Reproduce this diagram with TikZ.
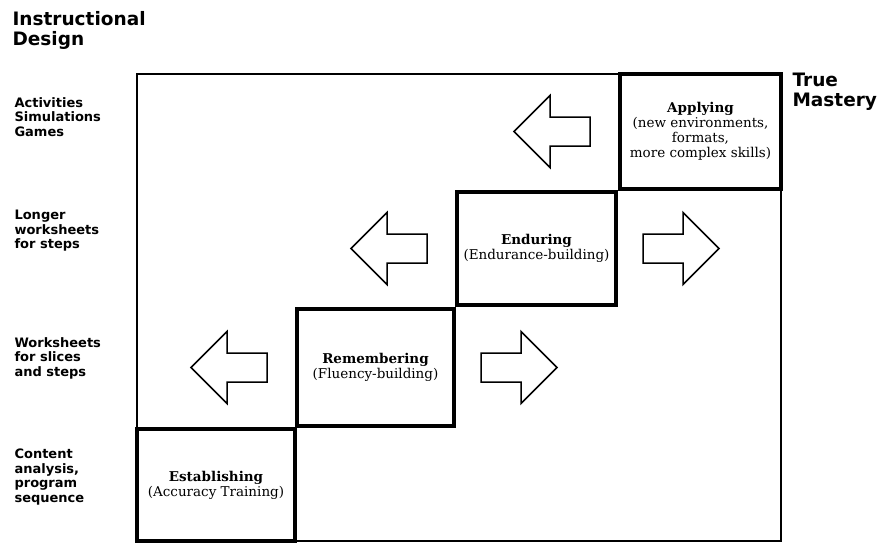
\documentclass[tikz,border=0pt]{standalone}
\usepackage{fontspec}
\setmainfont{DejaVu Serif}
\newfontfamily\labelfont{DejaVu Sans}
\usepackage{tikz}
\usetikzlibrary{positioning,calc}

\tikzset{
  blkarrow/.pic={
    \draw[line width=1.5pt, line join=miter] (-38,-14.5) -- (2,-14.5) -- (2,-36) -- (38,0) -- (2,36) -- (2,14.5) -- (-38,14.5) -- cycle;
  }
}

\begin{document}
\begin{tikzpicture}[x=1pt,y=-1pt,
    stage/.style={draw, line width=3.5pt, outer sep=0pt, inner sep=0pt, align=center,
      font=\fontsize{13.5}{15}\selectfont},
    side/.style={anchor=west, align=left, font=\labelfont\bfseries\fontsize{13}{14.5}\selectfont},
    head/.style={anchor=west, align=left, font=\labelfont\bfseries\fontsize{18.5}{20}\selectfont},
    frame/.style={line width=1.5pt}]
  \useasboundingbox (0,0) rectangle (880,544);

  % headings
  \node[head] (design) at (9,30) {Instructional\\Design};
  \node[head] (mastery) at (789,92) {True\\Mastery};

  % what is used at each level
  \node[side] (games) at (11,117) {Activities\\Simulations\\Games};
  \node[side] (longer) at (11,231) {Longer\\worksheets\\for steps};
  \node[side] (slices) at (11,358) {Worksheets\\for slices\\and steps};
  \node[side] (content) at (11,477) {Content\\analysis,\\program\\sequence};

  % the four steps
  \node[stage, minimum width=158pt, minimum height=112pt] (est) at (216,485)
    {\textbf{Establishing}\\(Accuracy Training)};
  \node[stage, minimum width=157pt, minimum height=117pt] (rem) at (375.5,367.5)
    {\textbf{Remembering}\\(Fluency-building)};
  \node[stage, minimum width=159pt, minimum height=113pt] (end) at (536.5,248.5)
    {\textbf{Enduring}\\(Endurance-building)};
  \node[stage, minimum width=161pt, minimum height=115pt] (app) at (700.5,131.5)
    {\textbf{Applying}\\(new environments,\\formats,\\more complex skills)};

  % outer frame
  \draw[frame] (est.north west) |- (app.north west);
  \draw[frame] (app.south east) |- (est.south east);

  % block arrows
  \pic[xscale=-1] at ($(app.west)+(-68,0)$) {blkarrow};
  \pic[xscale=-1] at ($(end.west)+(-68,0)$) {blkarrow};
  \pic[xscale=-1] at ($(rem.west)+(-68,0)$) {blkarrow};
  \pic at ($(end.east)+(65,0)$) {blkarrow};
  \pic at ($(rem.east)+(65,0)$) {blkarrow};
\end{tikzpicture}
\end{document}
